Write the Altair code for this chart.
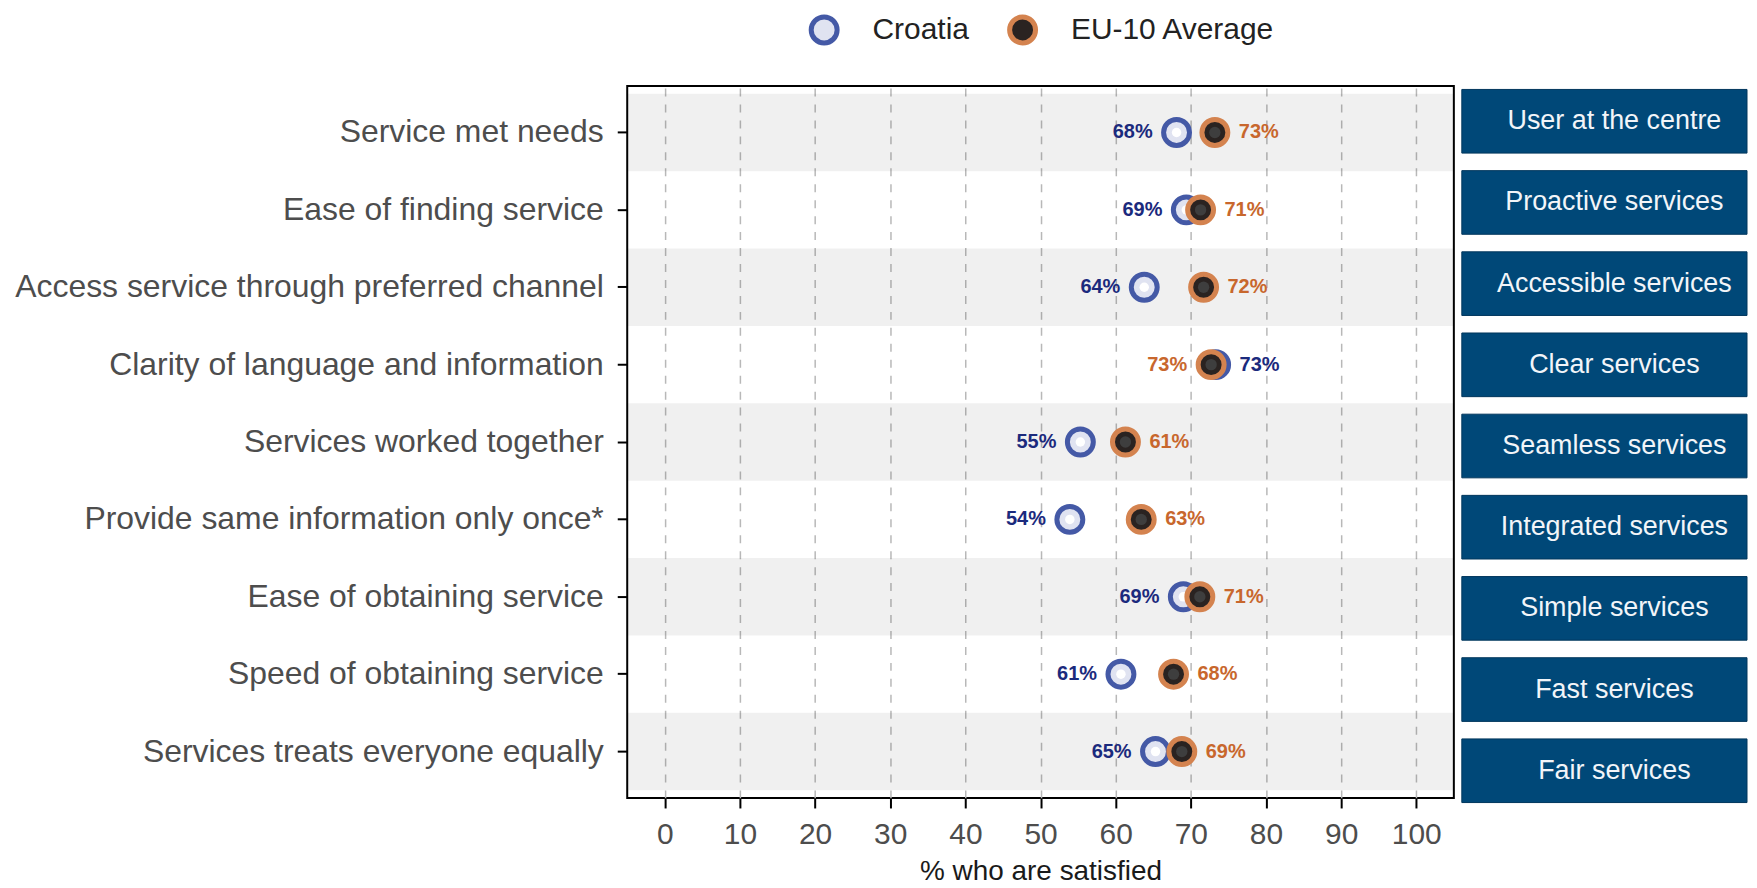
import altair as alt
import pandas as pd

categories = [
    "Service met needs",
    "Ease of finding service",
    "Access service through preferred channel",
    "Clarity of language and information",
    "Services worked together",
    "Provide same information only once*",
    "Ease of obtaining service",
    "Speed of obtaining service",
    "Services treats everyone equally",
]
croatia = [68.1, 69.4, 63.8, 73.3, 55.3, 53.9, 69.0, 60.7, 65.3]
eu10 = [73.2, 71.3, 71.7, 72.7, 61.3, 63.4, 71.2, 67.7, 68.8]
pillars = [
    "User at the centre",
    "Proactive services",
    "Accessible services",
    "Clear services",
    "Seamless services",
    "Integrated services",
    "Simple services",
    "Fast services",
    "Fair services",
]
series_names = ["Croatia", "EU-10 Average"]
x_ticks = list(range(0, 101, 10))

rows = []
for i, c in enumerate(categories):
    cro, eu = croatia[i], eu10[i]
    cro_left = cro < eu
    rows.append(dict(cat=c, series="Croatia", value=cro, label=f"{round(cro)}%",
                     side="left" if cro_left else "right"))
    rows.append(dict(cat=c, series="EU-10 Average", value=eu, label=f"{round(eu)}%",
                     side="right" if cro_left else "left"))
df = pd.DataFrame(rows)
bands_df = pd.DataFrame({"cat": categories[0::2]})
pillars_df = pd.DataFrame({"pillar": pillars})

FONT = "Liberation Sans, Arial, sans-serif"

y_enc = alt.Y(
    "cat:N", sort=categories, title=None,
    scale=alt.Scale(paddingInner=0, paddingOuter=0.1),
    axis=alt.Axis(labelFont=FONT, labelFontSize=32, labelColor="#4d4d4d",
                  labelLimit=800, labelPadding=14, tickSize=10, tickWidth=2,
                  tickColor="black", domain=False, grid=False,
                  minExtent=620, maxExtent=620),
)
x_enc = alt.X(
    "value:Q", title="% who are satisfied",
    scale=alt.Scale(domain=[-5, 105], nice=False, zero=False),
    axis=alt.Axis(values=x_ticks, grid=True, gridDash=[8, 8], gridColor="#b8b8b8",
                  gridWidth=1.5, labelFont=FONT, labelFontSize=30, labelColor="#4d4d4d",
                  labelPadding=12, tickSize=10, tickWidth=2, tickColor="black",
                  domain=False, titleFont=FONT, titleFontSize=28, titleColor="#1a1a1a",
                  titleFontWeight="normal", titlePadding=8),
)

leg = alt.Legend(orient="none", legendX=182, legendY=-72, direction="horizontal",
                 title=None, labelFont=FONT, labelFontSize=30, labelColor="#222222",
                 labelLimit=400, symbolSize=676, symbolStrokeWidth=5, symbolType="circle",
                 labelOffset=33, columnPadding=30, padding=0)
fill_enc = alt.Fill("series:N", scale=alt.Scale(domain=series_names, range=["#e0e3f1", "#2a2321"]),
                    legend=leg)
stroke_enc = alt.Stroke("series:N", scale=alt.Scale(domain=series_names, range=["#4459a6", "#d4834f"]),
                        legend=leg)

bands = alt.Chart(bands_df).mark_rect(fill="black", opacity=0.06).encode(y=y_enc)

base = alt.Chart(df)
cro_pts = base.transform_filter(alt.datum.series == "Croatia").mark_point(
    shape="circle", filled=True, size=676, strokeWidth=5, opacity=1
).encode(x=x_enc, y=y_enc, fill=fill_enc, stroke=stroke_enc)
cro_in = base.transform_filter(alt.datum.series == "Croatia").mark_point(
    shape="circle", filled=True, size=90, fill="white", strokeWidth=0, opacity=1
).encode(x=x_enc, y=y_enc)
eu_pts = base.transform_filter(alt.datum.series == "EU-10 Average").mark_point(
    shape="circle", filled=True, size=676, strokeWidth=5, opacity=1
).encode(x=x_enc, y=y_enc, fill=fill_enc, stroke=stroke_enc)
eu_in = base.transform_filter(alt.datum.series == "EU-10 Average").mark_point(
    shape="circle", filled=True, size=130, fill="#3e3e3e", strokeWidth=0, opacity=1
).encode(x=x_enc, y=y_enc)

col_enc = alt.Color("series:N", scale=alt.Scale(domain=series_names, range=["#1b2a7d", "#c8672d"]),
                    legend=None)
lab_left = base.transform_filter(alt.datum.side == "left").mark_text(
    align="right", baseline="middle", dx=-24, font=FONT, fontSize=20, fontWeight="bold"
).encode(x=x_enc, y=y_enc, text="label:N", color=col_enc)
lab_right = base.transform_filter(alt.datum.side == "right").mark_text(
    align="left", baseline="middle", dx=24, font=FONT, fontSize=20, fontWeight="bold"
).encode(x=x_enc, y=y_enc, text="label:N", color=col_enc)

left = alt.layer(bands, cro_pts, cro_in, eu_pts, eu_in, lab_left, lab_right).properties(
    width=829, height=714
)

py = alt.Y("pillar:N", sort=pillars, axis=None,
           scale=alt.Scale(paddingInner=0.216, paddingOuter=0.042))
boxes = alt.Chart(pillars_df).mark_rect(fill="#004878", stroke="#00365c", strokeWidth=1).encode(y=py)
box_text = alt.Chart(pillars_df).mark_text(
    font=FONT, fontSize=27, color="#f2f5f9", dx=10, baseline="middle"
).encode(y=py, text="pillar:N")
right = alt.layer(boxes, box_text).properties(
    width=286, height=722, view=alt.ViewBackground(stroke="transparent")
)

chart = alt.hconcat(left, right, spacing=5).properties(
    padding={"top": 5, "left": 0, "right": 0, "bottom": 0}
).configure_view(stroke="black", strokeWidth=2)

chart.save("out.html", embed_options={"renderer": "svg", "actions": False})
